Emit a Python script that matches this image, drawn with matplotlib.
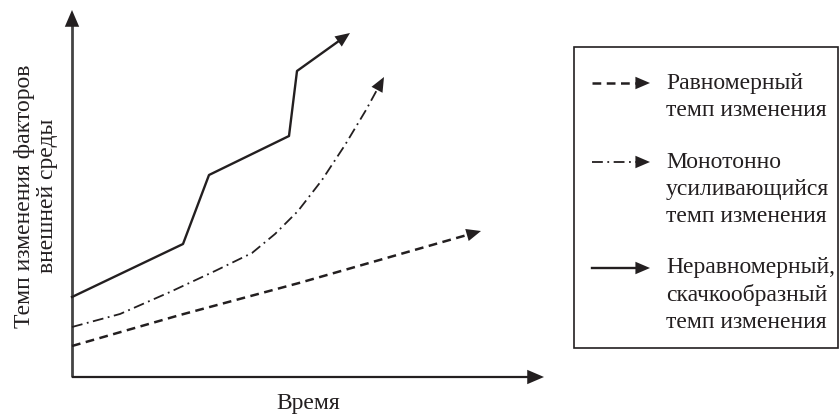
import matplotlib
matplotlib.use('Agg')
import matplotlib.pyplot as plt
import numpy as np
from matplotlib.patches import Rectangle

plt.rcParams['font.family'] = ['Liberation Serif', 'DejaVu Serif']

INK = '#231f20'

# данные (условные единицы: время / темп)
uniform_t = [0, 108, 227, 409]
uniform_v = [31, 62, 94, 146]

mono_t = [0, 48, 98, 143, 180, 203, 226, 250, 273, 294, 312]
mono_v = [50, 63, 85, 106, 124, 143, 166, 197, 232, 267, 300]

jump_t = [0, 111, 137, 217, 225, 278]
jump_v = [80, 133, 202, 241, 306, 344]

x_label = 'Время'
y_label = 'Темп изменения факторов\nвнешней среды'
legend_labels = [
    ['Равномерный', 'темп изменения'],
    ['Монотонно', 'усиливающийся', 'темп изменения'],
    ['Неравномерный,', 'скачкообразный', 'темп изменения'],
]

fig = plt.figure(figsize=(8.4, 4.16), dpi=100)
ax = fig.add_axes([0, 0, 1, 1])
ax.set_xlim(-72, 768)
ax.set_ylim(-39, 377)
ax.axis('off')

HEAD = 14  # длина наконечника, px (1 ед. = 1 px)


def arrow(ax, x0, y0, x1, y1, ms=10):
    ax.annotate('', xy=(x1, y1), xytext=(x0, y0),
                arrowprops=dict(arrowstyle='-|>,head_length=1.05,head_width=0.45',
                                color=INK, lw=0, shrinkA=0, shrinkB=0,
                                mutation_scale=ms))


def back_off(x0, y0, x1, y1, d):
    # точка на отрезке, отстоящая от конца на d
    L = np.hypot(x1 - x0, y1 - y0)
    return x1 - (x1 - x0) * d / L, y1 - (y1 - y0) * d / L


# оси
ax.plot([0, 0], [0, 356], color='#444444', lw=2.0, solid_capstyle='butt')
ax.plot([0, 462], [0, 0], color=INK, lw=1.6, solid_capstyle='butt')
arrow(ax, 0, 300, 0, 367, ms=11.5)
arrow(ax, 400, 0, 472, 0, ms=11.5)

# линии
styles = [
    (uniform_t, uniform_v, dict(ls=(0, (3.5, 2.2)), lw=1.8)),
    (mono_t, mono_v, dict(ls=(0, (6, 2.5, 1, 2.5)), lw=1.3)),
    (jump_t, jump_v, dict(ls='-', lw=1.7)),
]
for t, v, st in styles:
    ex, ey = back_off(t[-2], v[-2], t[-1], v[-1], HEAD - 3)
    ax.plot(t[:-1] + [ex], v[:-1] + [ey], color=INK, **st)
    sx, sy = back_off(t[-2], v[-2], t[-1], v[-1], HEAD + 4)
    arrow(ax, sx, sy, t[-1], v[-1])

ax.text(236, -26, x_label, ha='center', va='center', fontsize=17, color=INK)
ax.text(-36, 181, y_label, ha='center', va='center', rotation=90,
        fontsize=17, color=INK, linespacing=1.15)

# легенда
ax.add_patch(Rectangle((502, 29), 264, 301, fill=False, ec=INK, lw=1.2))
rows = [294, 215, 109]
for (t, v, st), lines, ry in zip(styles, legend_labels, rows):
    ax.plot([520, 566], [ry, ry], color=INK, **st)
    arrow(ax, 555, ry, 578, ry)
    for i, s in enumerate(lines):
        ax.text(594, ry - i * 27.5, s, ha='left', va='center', fontsize=17, color=INK)

fig.savefig('out.png', dpi=100)
